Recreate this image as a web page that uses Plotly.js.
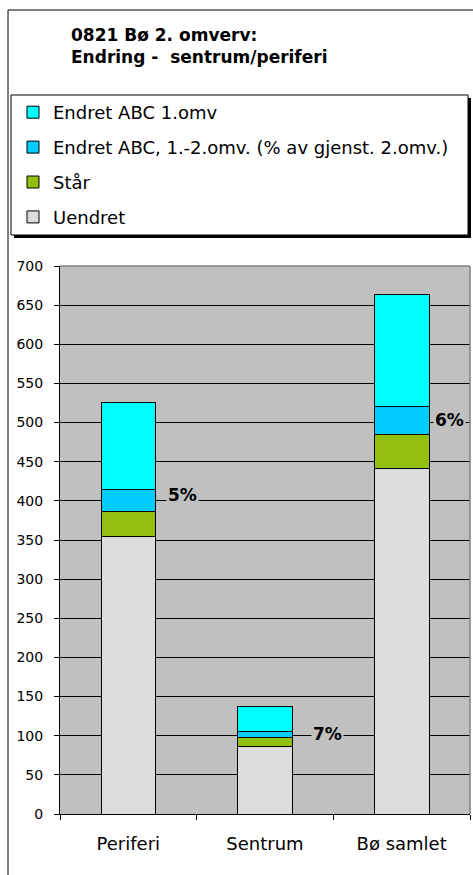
<!DOCTYPE html>
<html>
<head>
<meta charset="utf-8">
<script src="https://cdn.plot.ly/plotly-3.0.1.min.js"></script>
<style>html,body{margin:0;padding:0;background:#fff;}#chart{width:473px;height:875px;}</style>
</head>
<body>
<div id="chart"></div>
<script>
// ---- data ----
const categories = ['Periferi', 'Sentrum', 'Bø samlet'];
const uendret  = [355, 86, 441];
const staar    = [32, 12, 44];
const endret12 = [28, 8, 36];
const endret1  = [111, 31, 142];
const pctLabels = ['5%', '7%', '6%'];
const yTicks = [0, 50, 100, 150, 200, 250, 300, 350, 400, 450, 500, 550, 600, 650, 700];

// ---- layout helpers (pixel -> paper) ----
const W = 473, H = 875;
const M = {l: 60, r: 3, t: 266, b: 61};
const pw = W - M.l - M.r, ph = H - M.t - M.b;
const px = x => (x - M.l) / pw;
const py = y => (H - M.b - y) / ph;

const FONT = 'DejaVu Sans, Arial, sans-serif';
const lineStyle = {color: '#000', width: 1};

function barTrace(name, vals, color, grp, rank) {
  return {
    type: 'bar', name: name, x: categories, y: vals,
    legendgroup: grp, legendrank: rank,
    marker: {color: color, line: lineStyle},
    hoverinfo: 'skip'
  };
}

const traces = [
  barTrace('Uendret', uendret, '#DCDCDC', 'g4', 4),
  barTrace('Står', staar, '#93C00F', 'g3', 3),
  barTrace('Endret ABC, 1.-2.omv. (% av gjenst. 2.omv.)', endret12, '#00CCFF', 'g2', 2),
  barTrace('Endret ABC 1.omv', endret1, '#00FFFF', 'g1', 1)
];

const labelShiftX = [54, 62, 48];
const labelShiftY = [5, 0, 0];
const annotations = categories.map((c, i) => ({
  x: c, y: uendret[i] + staar[i] + endret12[i] / 2,
  xref: 'x', yref: 'y',
  text: '<b>' + pctLabels[i] + '</b>',
  showarrow: false, xshift: labelShiftX[i], yshift: labelShiftY[i],
  xanchor: 'center', yanchor: 'middle',
  bgcolor: '#C0C0C0', borderpad: 1,
  font: {family: FONT, size: 17, color: '#000'}
}));

const shapes = [
  // outer frame
  {type: 'rect', xref: 'paper', yref: 'paper', x0: px(8), x1: px(490), y0: py(10), y1: py(895),
   line: {color: '#000', width: 1}, fillcolor: 'rgba(0,0,0,0)', layer: 'above'},
  // legend shadow
  {type: 'rect', xref: 'paper', yref: 'paper', x0: px(14), x1: px(471), y0: py(98), y1: py(238),
   line: {width: 0}, fillcolor: '#000', layer: 'above'},
  // legend box
  {type: 'rect', xref: 'paper', yref: 'paper', x0: px(11), x1: px(468), y0: py(95), y1: py(235),
   line: {color: '#000', width: 1}, fillcolor: '#fff', layer: 'above'},
  // plot area top and right border (grey)
  {type: 'line', xref: 'paper', yref: 'paper', x0: 0, x1: 1, y0: 1, y1: 1,
   line: {color: '#808080', width: 1.5}, layer: 'above'},
  {type: 'line', xref: 'paper', yref: 'paper', x0: 1, x1: 1, y0: 0, y1: 1,
   line: {color: '#808080', width: 1.5}, layer: 'above'}
];

const layout = {
  width: W, height: H,
  margin: M,
  paper_bgcolor: '#fff',
  plot_bgcolor: '#C0C0C0',
  barmode: 'stack',
  bargap: 0.6,
  showlegend: true,
  title: {
    text: '<b>0821 Bø 2. omverv:<br>Endring -  sentrum/periferi</b>',
    x: 71 / W, xanchor: 'left', xref: 'container',
    y: 1 - 41 / H, yanchor: 'top', yref: 'container',
    font: {family: FONT, size: 17, color: '#000'}
  },
  legend: {
    x: px(13), xanchor: 'left', y: py(94), yanchor: 'top',
    xref: 'paper', yref: 'paper',
    bgcolor: 'rgba(0,0,0,0)', borderwidth: 0,
    traceorder: 'grouped',
    tracegroupgap: 8.5,
    font: {family: FONT, size: 18, color: '#000'}
  },
  xaxis: {
    type: 'category',
    showgrid: false,
    showline: true, linecolor: '#000', linewidth: 1,
    ticks: 'outside', tickson: 'boundaries', ticklen: 5, tickcolor: '#000', tickwidth: 1,
    ticklabelstandoff: 13,
    tickfont: {family: FONT, size: 18, color: '#000'},
    fixedrange: true
  },
  yaxis: {
    range: [0, 700],
    tickvals: yTicks,
    ticktext: yTicks.map(String),
    showgrid: true, gridcolor: '#000', gridwidth: 1,
    showline: true, linecolor: '#000', linewidth: 1,
    ticks: 'outside', ticklen: 5, tickcolor: '#000', tickwidth: 1,
    ticklabelstandoff: 8,
    zeroline: false,
    tickfont: {family: FONT, size: 14, color: '#000'},
    fixedrange: true
  },
  annotations: annotations,
  shapes: shapes,
  hovermode: false
};

Plotly.newPlot('chart', traces, layout, {displayModeBar: false, staticPlot: true});
</script>
</body>
</html>
